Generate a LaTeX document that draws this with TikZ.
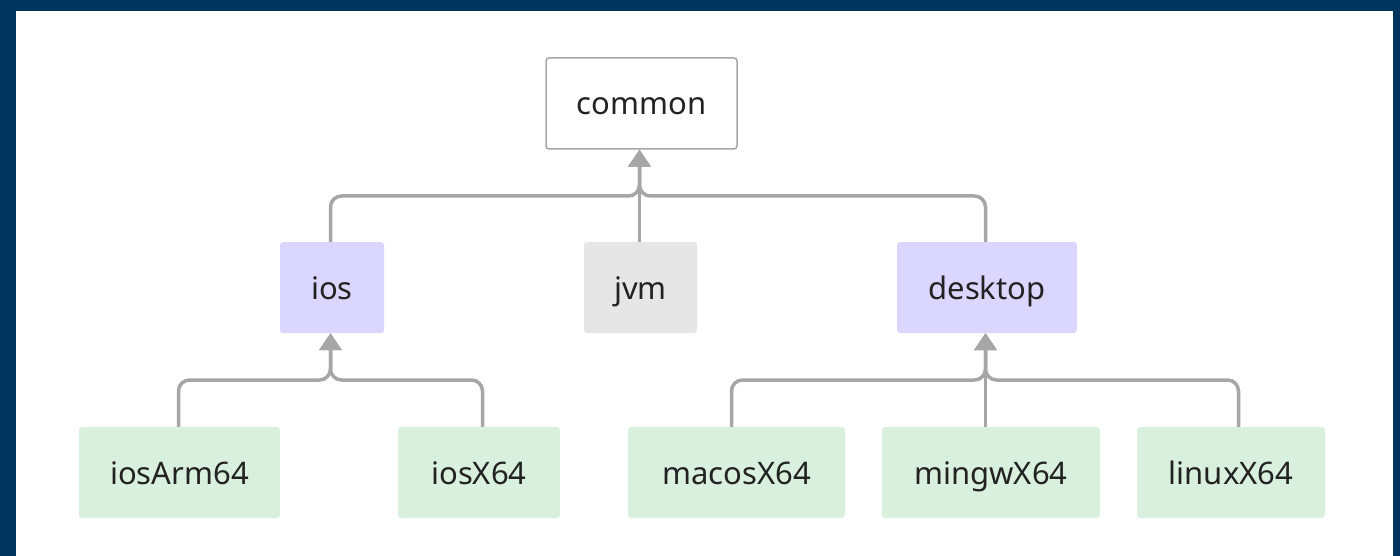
\documentclass[tikz,border=0pt]{standalone}
\usepackage{fontspec}
\setmainfont{Noto Sans}
\usetikzlibrary{arrows.meta}
\definecolor{frame}{HTML}{00355F}
\definecolor{wire}{HTML}{A6A6A6}
\definecolor{lav}{HTML}{DAD6FE}
\definecolor{jvmgray}{HTML}{E6E6E6}
\definecolor{leaf}{HTML}{DAF0DF}
\definecolor{ink}{HTML}{222222}
\tikzset{
  box/.style={rectangle, rounded corners=3pt, minimum height=91pt, text=ink,
    font=\fontsize{31}{34}\selectfont, inner sep=0pt,
    text height=28pt, text depth=5pt},
  rootbox/.style={box, draw=wire, line width=1.5pt, fill=white},
  midbox/.style={box, fill=lav},
  jvmbox/.style={box, fill=jvmgray},
  leafbox/.style={box, fill=leaf},
  link/.style={draw=wire, line width=3.5pt, rounded corners=11pt,
    -{Triangle[width=22pt,length=17pt]}},
}
\begin{document}
\begin{tikzpicture}[x=1pt,y=-1pt]
  % page frame
  \fill[frame] (0,0) rectangle (1400,556);
  \fill[white] (16,11) rectangle (1393,556);
  \useasboundingbox (0,0) rectangle (1400,556);

  % nodes
  \node[rootbox, minimum width=191pt] (common) at (641.5,103.5) {common};
  \node[midbox, minimum width=104pt] (ios) at (332,287.5) {ios};
  \node[jvmbox, minimum width=113pt] (jvm) at (640.5,287.5) {jvm};
  \node[midbox, minimum width=180pt] (desktop) at (987,287.5) {desktop};
  \node[leafbox, minimum width=201pt] (iosArm64) at (179.5,472.5) {iosArm64};
  \node[leafbox, minimum width=162pt] (iosX64) at (479,472.5) {iosX64};
  \node[leafbox, minimum width=217pt] (macosX64) at (736.5,472.5) {macosX64};
  \node[leafbox, minimum width=218pt] (mingwX64) at (991,472.5) {mingwX64};
  \node[leafbox, minimum width=188pt] (linuxX64) at (1231,472.5) {linuxX64};

  % junction points
  \coordinate (jtop) at (639.5,196);
  \coordinate (jios) at (330.5,380);
  \coordinate (jdesk) at (985.5,380);

  % connectors to common
  \draw[link] (ios.north -| 330.5,0) |- (jtop) -- (common.south -| jtop);
  \draw[link] (jvm.north -| jtop) -- (common.south -| jtop);
  \draw[link] (desktop.north -| 985.5,0) |- (jtop) -- (common.south -| jtop);

  % connectors to ios
  \draw[link] (iosArm64.north -| 178.5,0) |- (jios) -- (ios.south -| jios);
  \draw[link] (iosX64.north -| 482.5,0) |- (jios) -- (ios.south -| jios);

  % connectors to desktop
  \draw[link] (macosX64.north -| 731.5,0) |- (jdesk) -- (desktop.south -| jdesk);
  \draw[link] (mingwX64.north -| jdesk) -- (desktop.south -| jdesk);
  \draw[link] (linuxX64.north -| 1238.5,0) |- (jdesk) -- (desktop.south -| jdesk);
\end{tikzpicture}
\end{document}
